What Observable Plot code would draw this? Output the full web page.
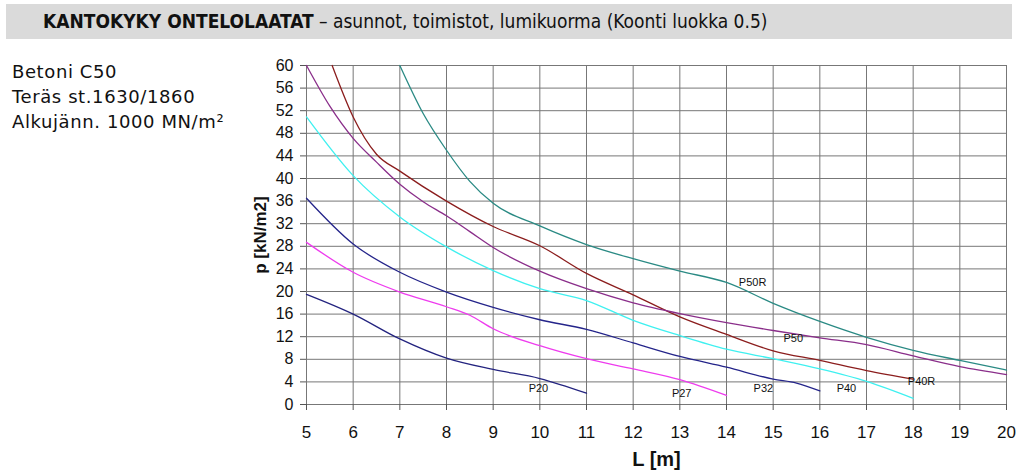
<!DOCTYPE html>
<html>
<head>
<meta charset="utf-8">
<script src="https://cdn.jsdelivr.net/npm/d3@7"></script>
<script src="https://cdn.jsdelivr.net/npm/@observablehq/plot@0.6"></script>
<style>
  html, body { margin: 0; padding: 0; background: #fff; }
  body { width: 1023px; height: 475px; position: relative; overflow: hidden; }
  #title {
    position: absolute; left: 6px; top: 4px; width: 1006px; height: 35px;
    background: #dadada; box-sizing: border-box; padding-left: 37px;
    font-family: "Liberation Sans Narrow", "DejaVu Sans Condensed", "Liberation Sans", sans-serif;
    font-stretch: condensed; font-size: 19px; line-height: 35px; color: #111;
  }
  #title b { font-weight: bold; }
  #info {
    position: absolute; left: 12px; top: 59px;
    font-family: "DejaVu Sans", sans-serif; font-size: 18px; line-height: 25px; color: #111;
    letter-spacing: 0.6px;
  }
  #chart { position: absolute; left: 0; top: 45px; }
  #chart svg { font-family: "Liberation Sans", Arial, sans-serif; }
  #chart g[aria-label="x-axis label"] text { font-weight: bold; font-size: 20px; }
  #chart g[aria-label="y-axis label"] text { font-weight: bold; font-size: 17px; }
</style>
</head>
<body>
<div id="title"><b>KANTOKYKY ONTELOLAATAT</b> – asunnot, toimistot, lumikuorma (Koonti luokka 0.5)</div>
<div id="info">Betoni C50<br>Teräs st.1630/1860<br>Alkujänn. 1000 MN/m²</div>
<div id="chart"></div>
<script>
// Series: [L (m), p (kN/m2)]
const P20  = [[5,19.5],[6,16.0],[7,11.6],[8,8.2],[9,6.2],[10,4.6],[11,2.0]];
const P27  = [[5,28.7],[6,23.4],[7,19.9],[8,17.3],[8.5,15.8],[9,13.4],[10,10.4],[11,8.1],[12,6.3],[13,4.4],[14,1.6]];
const P32  = [[5,36.5],[6,28.4],[7,23.4],[8,19.9],[9,17.2],[10,15.0],[11,13.3],[12,10.9],[13,8.5],[14,6.6],[15,4.5],[15.5,3.8],[16,2.4]];
const P40  = [[5,50.9],[6,40.5],[7,33.2],[8,27.9],[9,23.7],[10,20.5],[11,18.4],[12,14.9],[13,12.2],[14,9.8],[15,8.1],[16,6.3],[17,4.1],[18,1.1]];
const P40R = [[5.55,60],[6,50.9],[6.5,44.3],[7,41.3],[8,36.0],[9,31.5],[10,28.1],[11,23.2],[12,19.4],[13,15.5],[14,12.4],[15,9.5],[16,7.8],[17,6.0],[18,4.5]];
const P50  = [[5,60],[5.5,52.8],[6,47.1],[6.5,42.9],[7,39.0],[7.5,35.9],[8,33.4],[8.5,30.6],[9,27.8],[10,23.6],[11,20.5],[12,18.0],[13,16.1],[14,14.5],[15,13.1],[16,11.8],[17,10.6],[18,8.6],[19,6.7],[20,5.3]];
const P50R = [[7,60],[7.5,51.5],[8,45.0],[8.5,39.5],[9,35.6],[10,31.6],[11,28.3],[12,25.8],[13,23.6],[14,21.6],[15,17.9],[16,14.7],[17,11.9],[18,9.6],[19,7.8],[20,6.1]];

const seriesNames  = ["P20","P27","P32","P40","P40R","P50","P50R"];
const seriesColors = ["#23237f","#ee3cee","#24248a","#3ff0f0","#8b1d1d","#8a2e8a","#2a8a84"];
const seriesValues = [P20, P27, P32, P40, P40R, P50, P50R];

// Curve labels: [name, L, p]
const curveLabels = [["P20",9.97,2.9],["P27",13.04,2.0],["P32",14.79,2.9],["P40",16.57,2.9],["P40R",18.18,4.0],["P50",15.43,11.6],["P50R",14.56,21.6]];

const xTicks = d3.range(5, 21, 1);
const yTicks = d3.range(0, 61, 4);

const data = seriesValues.flatMap((pts, i) => pts.map(([L, p]) => ({series: seriesNames[i], L, p})));
const labels = curveLabels.map(([name, L, p]) => ({name, L, p}));

const chart = Plot.plot({
  width: 1023,
  height: 430,
  marginLeft: 306,
  marginRight: 17,
  marginTop: 20,
  marginBottom: 71,
  x: {domain: [5, 20]},
  y: {domain: [0, 60]},
  color: {domain: seriesNames, range: seriesColors},
  marks: [
    Plot.gridX(xTicks, {stroke: "#777", strokeOpacity: 1}),
    Plot.gridY(yTicks, {stroke: "#777", strokeOpacity: 1}),
    Plot.axisX(xTicks, {tickSize: 6, tickPadding: 15, fontSize: 17, stroke: "#555", color: "#111",
      label: "L [m]", labelAnchor: "center", labelArrow: "none", labelOffset: 61}),
    Plot.axisY(yTicks, {tickSize: 6, tickPadding: 7, fontSize: 16, stroke: "#555", color: "#111",
      label: "p [kN/m2]", labelAnchor: "center", labelArrow: "none", labelOffset: 53}),
    Plot.line(data, {x: "L", y: "p", z: "series", stroke: "series", strokeWidth: 1.3, curve: "monotone-x"}),
    Plot.text(labels, {x: "L", y: "p", text: "name", fontSize: 11, fill: "#111"})
  ]
});
document.getElementById("chart").appendChild(chart);
</script>
</body>
</html>
